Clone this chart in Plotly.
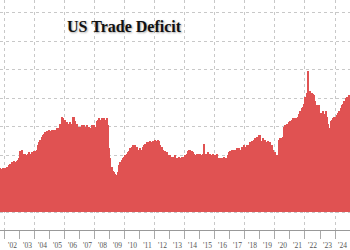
import plotly.graph_objects as go

# Monthly US trade deficit, $bn
v2001 = [33, 32, 31, 30, 31, 30, 30, 30, 31, 30, 31, 31]
v2002 = [31, 32, 31, 33, 34, 35, 35, 36, 35, 36, 37, 38]
v2003 = [43, 44, 41, 40, 41, 40, 41, 42, 41, 42, 41, 43]
v2004 = [43, 44, 47, 49, 51, 53, 54, 55, 56, 57, 56, 58]
v2005 = [57, 58, 58, 57, 58, 59, 58, 59, 62, 67, 66, 64]
v2006 = [65, 63, 62, 62, 63, 62, 67, 67, 64, 62, 60, 60]
v2007 = [60, 61, 59, 61, 60, 61, 59, 60, 59, 61, 60, 61]
v2008 = [60, 64, 65, 66, 65, 66, 65, 66, 65, 66, 61, 45]
v2009 = [38, 32, 29, 28, 27, 26, 28, 33, 35, 37, 38, 39]
v2010 = [40, 41, 42, 43, 45, 46, 47, 46, 47, 46, 44, 44]
v2011 = [45, 44, 46, 47, 48, 49, 48, 49, 50, 49, 50, 50]
v2012 = [51, 50, 51, 50, 47, 46, 44, 43, 43, 42, 40, 40]
v2013 = [40, 39, 38, 39, 40, 38, 38, 39, 38, 39, 39, 38]
v2014 = [40, 41, 43, 44, 44, 43, 42, 41, 40, 41, 40, 41]
v2015 = [41, 40, 41, 48, 41, 41, 42, 41, 41, 40, 41, 40]
v2016 = [40, 41, 38, 37, 38, 38, 37, 39, 38, 38, 40, 42]
v2017 = [43, 44, 43, 44, 44, 45, 44, 45, 44, 46, 46, 47]
v2018 = [46, 47, 45, 47, 49, 50, 50, 51, 52, 53, 53, 54]
v2019 = [54, 50, 52, 51, 51, 49, 50, 48, 49, 47, 44, 42]
v2020 = [42, 40, 40, 51, 52, 52, 53, 60, 61, 62, 62, 63]
v2021 = [64, 65, 66, 65, 66, 66, 67, 69, 71, 73, 74, 76]
v2022 = [81, 84, 99, 85, 85, 84, 83, 82, 78, 75, 73, 75]
v2023 = [70, 68, 71, 69, 71, 67, 62, 59, 64, 65, 66, 67]
v2024 = [67, 68, 70, 71, 73, 75, 76, 78, 80, 81, 79, 82]

years = list(range(2001, 2025))
yearly = [v2001, v2002, v2003, v2004, v2005, v2006, v2007, v2008, v2009, v2010,
          v2011, v2012, v2013, v2014, v2015, v2016, v2017, v2018, v2019, v2020,
          v2021, v2022, v2023, v2024]
year_labels = ["'%02d" % (y % 100) for y in years]

xs, ys = [], []
for y, vals in zip(years, yearly):
    for m, v in enumerate(vals):
        xs.append(y + (m + 0.5) / 12)
        ys.append(v)

xrange_ = [2001.67, 2025.0]

fig = go.Figure()
fig.add_trace(go.Bar(x=xs, y=ys, width=1 / 12, marker=dict(color="#E05252", line=dict(width=0)),
                     showlegend=False))
# invisible helper trace on overlay axis for vertical grid
fig.add_trace(go.Scatter(x=[xrange_[0]], y=[0], xaxis="x2", mode="markers",
                         marker=dict(opacity=0), showlegend=False, hoverinfo="skip"))

fig.update_layout(
    width=350, height=250,
    margin=dict(l=0, r=0, t=0, b=17),
    paper_bgcolor="white", plot_bgcolor="white",
    bargap=0,
    xaxis=dict(
        range=xrange_, tickvals=[y + 0.5 for y in years], ticktext=year_labels,
        ticks="outside", ticklen=8, tickcolor="rgba(0,0,0,0)",
        tickfont=dict(family="Liberation Serif", size=7.5, color="#555"),
        showgrid=False, zeroline=False,
        showline=True, linecolor="#999", linewidth=1,
        minor=dict(tickvals=years + [2025], ticks="outside", ticklen=8, tickcolor="#aaa",
                   showgrid=False),
    ),
    xaxis2=dict(
        overlaying="x", matches="x", range=xrange_, side="top",
        tickvals=list(range(2002, 2026, 2)), showticklabels=False, ticks="",
        showgrid=True, gridcolor="#c8c8c8", griddash="dot", gridwidth=1,
        zeroline=False, showline=False,
    ),
    yaxis=dict(
        range=[-12.5, 149], dtick=20, tick0=0, showticklabels=False, ticks="",
        showgrid=True, gridcolor="#c8c8c8", griddash="dot", gridwidth=1,
        zeroline=False, showline=False,
    ),
    annotations=[dict(
        text="<b>US Trade Deficit</b>", xref="paper", yref="paper",
        x=0.357, y=1 - 27 / 233, xanchor="center", yanchor="middle", showarrow=False,
        font=dict(family="Liberation Serif", size=16, color="#111",
                  shadow="1px 1px 2px rgba(0,0,0,0.35)"),
    )],
)

fig.write_html("out.html")
